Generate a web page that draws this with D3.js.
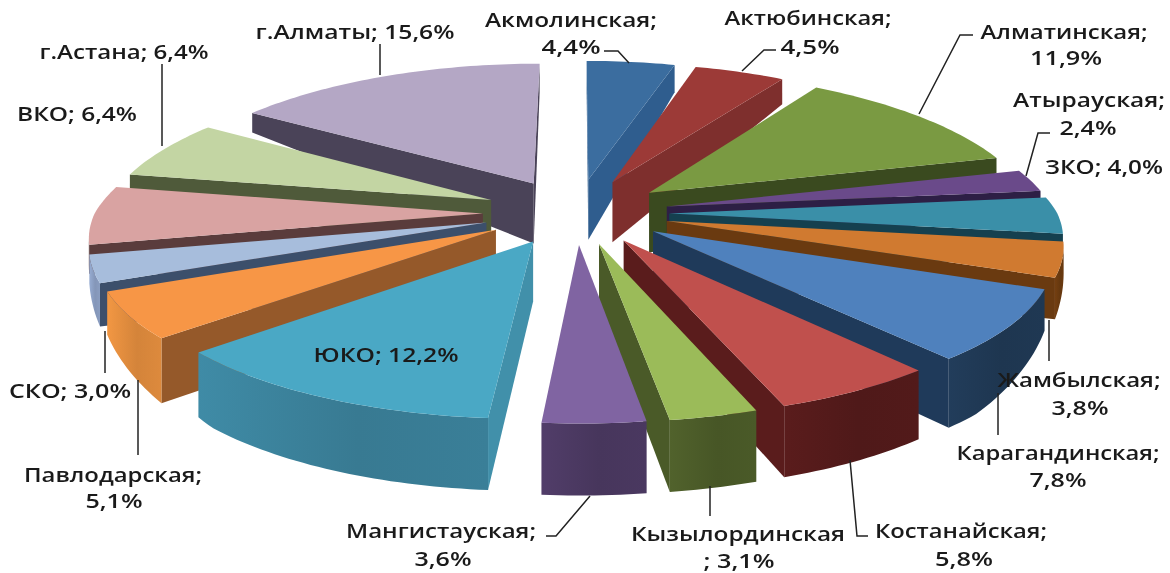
<!DOCTYPE html>
<html><head><meta charset="utf-8">
<script src="https://cdn.jsdelivr.net/npm/d3@7/dist/d3.min.js"></script>
<style>html,body{margin:0;background:#fff}svg{display:block;filter:blur(0.45px)}</style>
</head><body><svg id="c" width="1170" height="573"></svg>
<script>
// --- data ---
const regions = ["Акмолинская","Актюбинская","Алматинская","Атырауская","ЗКО","Жамбылская","Карагандинская","Костанайская","Кызылординская","Мангистауская","ЮКО","Павлодарская","СКО","ВКО","г.Астана","г.Алматы"];
const shares = [4.4,4.5,11.9,2.4,4.0,3.8,7.8,5.8,3.1,3.6,12.2,5.1,3.0,6.4,6.4,15.6];
// --- styles ---
const topColors = ["#3b6d9f","#9c3a37","#7a9a42","#6a4a8a","#3a8fa8","#d07a30","#4f81bd","#c0504d","#9bbb59","#8064a2","#4aa8c5","#f79646","#a7bddc","#d9a3a2","#c3d5a3","#b4a7c5"];
const cutColors = ["#2f5d8e","#7e2f2d","#3a4a1f","#2d1f45","#15404f","#6a3a10","#1f3a5a","#5a1c1c","#4a5a28","#4a3860","#4190aa","#95592a","#3c4f6b","#5a3c3c","#4f5a3a","#4a4358"];
const rimColors = ["#2f5d8e","#7e2f2d","#3a4a1f","#2d1f45","#15404f","#6a3a10","#1f3853","#521a1a","#4a5a28","#4a3860","#3a7f98","#dd8a3d","#8a9dc0","#5a3c3c","#4f5a3a","#4a4358"];
// --- label layout: text, centre x, centre y, width ---
const labelLines = [
 ["Акмолинская;",571,20,172],["4,4%",571,47,59],
 ["Актюбинская;",808,18,167],["4,5%",810,47,59],
 ["Алматинская;",1064,32,167],["11,9%",1066,58,72],
 ["Атырауская;",1089,100,152],["2,4%",1088,128,57],
 ["ЗКО; 4,0%",1104,167,118],
 ["Жамбылская;",1079,380,163],["3,8%",1080,408,57],
 ["Карагандинская;",1058,453,203],["7,8%",1058,480,57],
 ["Костанайская;",961,531,172],["5,8%",964,559,58],
 ["Кызылординская",738,534,214],["; 3,1%",739,561,71],
 ["Мангистауская;",441,531,190],["3,6%",443,559,57],
 ["ЮКО; 12,2%",386,355,145],
 ["Павлодарская;",113,475,178],["5,1%",114,501,57],
 ["СКО; 3,0%",70,391,122],
 ["ВКО; 6,4%",77,114,120],
 ["г.Астана; 6,4%",124,52,169],
 ["г.Алматы; 15,6%",355,32,199]
];
const leaderLines = [
 [[604,51],[618,51],[629,63]],[[776,50],[764,50],[742,71]],[[973,35],[960,35],[919,114]],
 [[1050,133],[1038,133],[1026,176]],[[1049,320],[1049,361]],[[998,393],[998,435]],
 [[868,536],[857,536],[850,460]],[[710,486],[710,516]],[[590,496],[556,536],[546,536]],
 [[138,380],[138,455]],[[105,331],[105,373]],[[162,64],[162,146]],[[380,44],[380,75]]
];
// --- geometry ---
const cx=576, cy=213, rx=388, ky=144, perspY=0.139, perspBack=0.17, apexDepth=60;
const explodeX=0.24, explodeFront=0.215, explodeBack=0.24;
const rimDepth=d3.scaleLinear().domain([-1,-0.6,0,0.35,0.7,1]).range([28,20,12,40,68,72]);
const project=(u,v,d=0)=>{
  const w=1/(1-perspY*v), wx=v<0?1/(1-perspBack*v):w;
  return [cx+rx*u*wx, cy+ky*v*w+d];
};
const svg=d3.select("#c");
const defs=svg.append("defs");
const pie=d3.pie().sort(null).value(d=>d)(shares);
const line=d3.line();
const slices=pie.map((p,i)=>{
  const mid=(p.startAngle+p.endAngle)/2;
  const ou=explodeX*Math.sin(mid), c=-Math.cos(mid);
  const ov=(c<0?explodeBack:explodeFront)*c;
  const n=Math.max(6,Math.ceil((p.endAngle-p.startAngle)/0.02));
  const rim=d3.range(n+1).map(k=>{
    const a=p.startAngle+(p.endAngle-p.startAngle)*k/n;
    return {u:ou+Math.sin(a),v:ov-Math.cos(a),d:rimDepth(-Math.cos(a))};
  });
  return {i,mid,apex:{u:ou,v:ov,d:apexDepth},rim};
}).sort((a,b)=>(-Math.cos(a.mid))-(-Math.cos(b.mid)));
const topPt=q=>project(q.u,q.v);
const botPt=q=>project(q.u,q.v,q.d);
const g=svg.append("g");
slices.forEach(s=>{
  const last=s.rim[s.rim.length-1];
  const sg=g.append("g");
  [[s.apex,s.rim[0]],[last,s.apex]].forEach(([a,b])=>{
    if(topPt(b)[0]<topPt(a)[0]) sg.append("path").attr("d",line([topPt(a),topPt(b),botPt(b),botPt(a)])+"Z").attr("fill",cutColors[s.i]);
  });
  const vis=[];
  for(let k=0;k<s.rim.length-1;k++){
    if(topPt(s.rim[k+1])[0]<topPt(s.rim[k])[0]){ if(!vis.length)vis.push(s.rim[k]); vis.push(s.rim[k+1]); }
  }
  if(vis.length>1){
    const id="rim"+s.i, col=d3.color(rimColors[s.i]);
    const gr=defs.append("linearGradient").attr("id",id);
    [[0,col.brighter(0.25)],[0.55,col.darker(0.12)],[1,col]].forEach(([o,c])=>gr.append("stop").attr("offset",o).attr("stop-color",c.formatHex()));
    const pts=vis.map(topPt).concat(vis.slice().reverse().map(botPt));
    sg.append("path").attr("d",line(pts)+"Z").attr("fill",`url(#${id})`);
  }
  sg.append("path").attr("d",line([s.apex,...s.rim].map(topPt))+"Z").attr("fill",topColors[s.i]);
});
svg.append("g").selectAll("path").data(leaderLines).join("path")
  .attr("d",d=>line(d)).attr("fill","none").attr("stroke","#222").attr("stroke-width",1.5);
svg.append("g").selectAll("text").data(labelLines).join("text")
  .attr("x",d=>d[1]).attr("y",d=>d[2]).attr("text-anchor","middle").attr("dominant-baseline","central")
  .attr("font-family","'Open Sans',sans-serif").attr("font-weight",600).attr("font-size",19).attr("fill","#1a1a1a")
  .attr("textLength",d=>d[3]).attr("lengthAdjust","spacingAndGlyphs").text(d=>d[0]);
</script></body></html>
